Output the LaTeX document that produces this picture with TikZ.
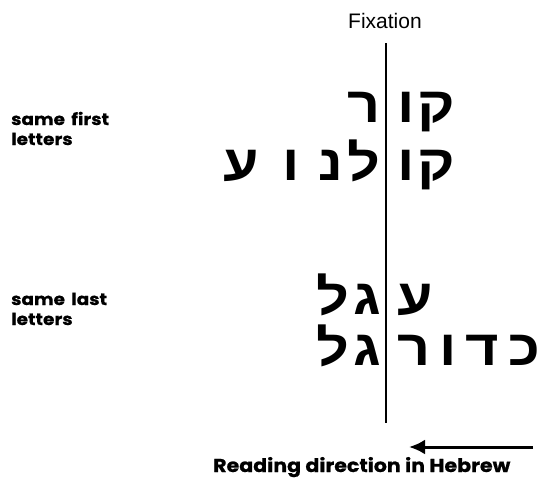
\documentclass[tikz,border=0pt]{standalone}
\usepackage{fontspec}
\usetikzlibrary{arrows.meta}
\setmainfont{Liberation Sans}
\TeXXeTstate=1
\newfontfamily\hebfont[Script=Hebrew,FakeStretch=1.15]{Liberation Sans}
\newfontfamily\labfont[FakeStretch=1.12,FakeBold=0.6,WordSpace=1.6]{Poppins}
\newfontfamily\rdfont[FakeStretch=1.1,FakeBold=0.6]{Poppins}
\newcommand{\hg}[1]{\hspace{#1pt}}
\tikzset{
  heb/.style={font=\hebfont\bfseries\fontsize{50}{50}\selectfont, inner sep=0pt},
  hebL/.style={heb, anchor=base east},
  hebR/.style={heb, anchor=base west},
  lab/.style={font=\labfont\bfseries\fontsize{16.5}{20}\selectfont, align=left, inner sep=0pt, anchor=base west},
}
\begin{document}
\begin{tikzpicture}[x=1pt,y=-1pt]
\useasboundingbox (0,0) rectangle (539,480);
\node[font=\fontsize{21}{21}\selectfont, anchor=base, inner sep=0pt] (fix) at (385,28) {Fixation};
\coordinate (ltop) at (386,43);
\coordinate (lbot) at (386,423);
\draw[line width=1.2pt] (ltop) -- (lbot);
% row 1
\node[hebR] (r1r) at (397,122) {\beginR ק\hg{3}ו\endR};
\node[hebL] (r1l) at (381,122) {\beginR ר\endR};
% row 2
\node[hebR] (r2r) at (397,180) {\beginR ק\hg{3}ו\endR};
\node[hebL] (r2l) at (381,180) {\beginR ל\hg{5}נ\hg{18}ו\hg{24}ע\endR};
% row 3
\node[hebR] (r3r) at (397,314) {\beginR ע\endR};
\node[hebL] (r3l) at (381,314) {\beginR ג\hg{4}ל\endR};
% row 4
\node[hebR] (r4r) at (397,365) {\beginR כ\hg{9}ד\hg{9}ו\hg{9}ר\endR};
\node[hebL] (r4l) at (381,365) {\beginR ג\hg{4}ל\endR};
% labels
\node[lab] (l1) at (11,145) {same first\\letters};
\node[lab] (l2) at (11,325) {same last\\letters};
\node[lab, font=\rdfont\bfseries\fontsize{18.7}{20}\selectfont] (rd) at (213,472) {Reading direction in Hebrew};
\coordinate (as) at (533,447);
\coordinate (ae) at (409,447);
\draw[line width=3pt, -{Latex[length=16pt,width=15pt]}] (as) -- (ae);
\end{tikzpicture}
\end{document}
